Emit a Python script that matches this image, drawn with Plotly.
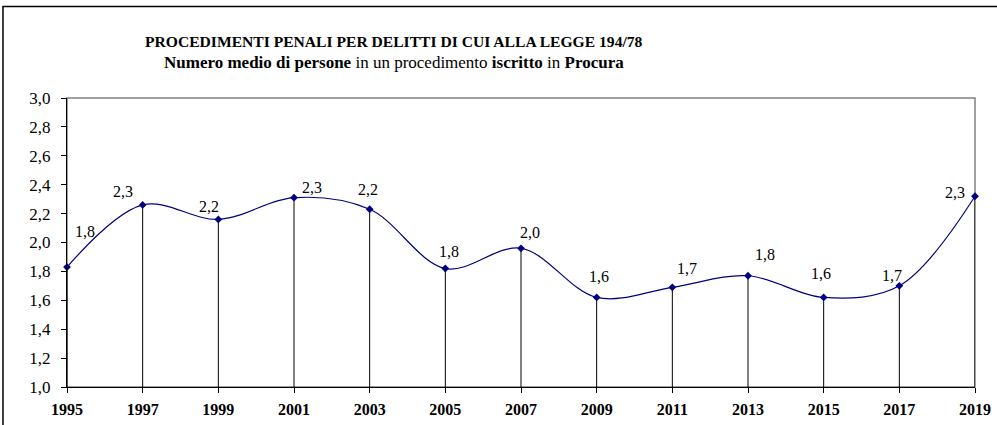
import plotly.graph_objects as go

years = [1995, 1997, 1999, 2001, 2003, 2005, 2007, 2009, 2011, 2013, 2015, 2017, 2019]
persone = [1.83, 2.26, 2.16, 2.31, 2.23, 1.82, 1.96, 1.62, 1.69, 1.77, 1.62, 1.70, 2.32]
y_ticks = [1.0, 1.2, 1.4, 1.6, 1.8, 2.0, 2.2, 2.4, 2.6, 2.8, 3.0]

# label offsets (px) relative to each point, as in the original
label_dx = [18, -20, -9, 18, -2, 4, 9, 2, 15, 17, -3, -7, -20]
label_dy = [36, 13, 13, 10, 20, 17, 16, 21, 19, 21, 24, 10, 4]

SERIF = "Liberation Serif"

fig = go.Figure()

# drop lines from each point to the x axis
drop_x, drop_y = [], []
for yr, v in zip(years, persone):
    drop_x += [yr, yr, None]
    drop_y += [y_ticks[0], v, None]
fig.add_trace(go.Scatter(x=drop_x, y=drop_y, mode="lines",
                         line=dict(color="black", width=1),
                         hoverinfo="skip", showlegend=False, cliponaxis=False))

fig.add_trace(go.Scatter(
    x=years, y=persone, mode="lines+markers",
    line=dict(color="#000080", width=1.2, shape="spline", smoothing=1),
    marker=dict(symbol="diamond", size=6, color="#000080"),
    showlegend=False, cliponaxis=False,
))

for yr, v, dx, dy in zip(years, persone, label_dx, label_dy):
    fig.add_annotation(x=yr, y=v, text=f"{v:.1f}".replace(".", ","),
                       showarrow=False, xshift=dx, yshift=dy,
                       font=dict(family=SERIF, size=16, color="black"))

fig.update_layout(
    width=997, height=425,
    margin=dict(l=67, r=22, t=98, b=38),
    paper_bgcolor="white", plot_bgcolor="white",
    separators=",.",
    font=dict(family=SERIF, color="black"),
    shapes=[
        # outer chart frame
        dict(type="rect", xref="paper", yref="paper", x0=-0.0705, x1=1.03, y0=-0.16, y1=1.317,
             line=dict(color="black", width=1.5), layer="below"),
        # plot area border
        dict(type="rect", xref="paper", yref="paper", x0=0, x1=1, y0=0, y1=1,
             line=dict(color="#808080", width=1.5), layer="below"),
    ],
)

title_x = (394 - 67) / 908
fig.add_annotation(
    xref="paper", yref="paper", x=title_x, y=1 + (98 - 42) / 289,
    xanchor="center", yanchor="middle", showarrow=False,
    text="<b>PROCEDIMENTI PENALI PER DELITTI DI CUI ALLA LEGGE 194/78</b>",
    font=dict(family=SERIF, size=15.6, color="black"),
)
fig.add_annotation(
    xref="paper", yref="paper", x=title_x, y=1 + (98 - 63) / 289,
    xanchor="center", yanchor="middle", showarrow=False,
    text="<b>Numero medio di persone</b> in un procedimento <b>iscritto</b> in <b>Procura</b>",
    font=dict(family=SERIF, size=17, color="black"),
)

fig.update_xaxes(range=[years[0], years[-1]], tickvals=years, ticktext=[f"<b>{y}</b>" for y in years],
                 showgrid=False, zeroline=False, showline=True, linecolor="black", linewidth=1,
                 ticks="outside", ticklen=5, tickcolor="black", ticklabelstandoff=3,
                 automargin=False,
                 tickfont=dict(family=SERIF, size=16, color="black"))
fig.update_yaxes(range=[y_ticks[0], y_ticks[-1]], tickvals=y_ticks, tickformat=".1f",
                 showgrid=False, zeroline=False, showline=True, linecolor="black", linewidth=1,
                 ticks="outside", ticklen=5, tickcolor="black", ticklabelstandoff=7,
                 automargin=False,
                 tickfont=dict(family=SERIF, size=17, color="black"))

# the page's default body margin would push the chart 8px off
fig.write_html("out.html", config={"displayModeBar": False},
               post_script="document.body.style.margin='0';")
